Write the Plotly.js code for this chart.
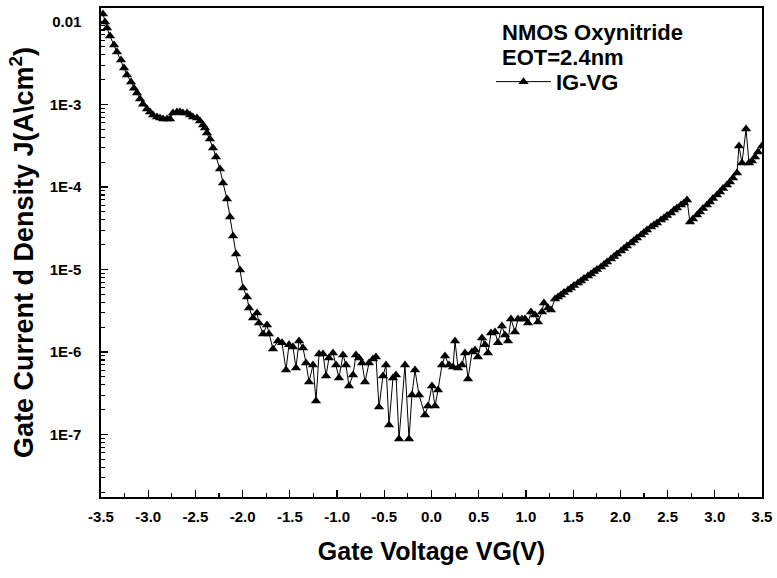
<!DOCTYPE html>
<html>
<head>
<meta charset="utf-8">
<script src="https://cdn.plot.ly/plotly-3.0.1.min.js"></script>
<style>html,body{margin:0;padding:0;background:#fff;}#chart{width:777px;height:578px;}</style>
</head>
<body>
<div id="chart"></div>
<script>
// Gate voltage (V)
const gateVoltage = [
 -3.479,-3.458,-3.436,-3.405,-3.362,-3.331,-3.288,-3.256,-3.225,-3.182,-3.151,-3.119,-3.087,-3.055,-3.013,-2.981,-2.949,-2.907,-2.875,-2.843,-2.801,-2.769,-2.738,-2.695,-2.663,-2.632,-2.589,-2.557,-2.526,-2.483,-2.452,-2.420,
 -2.399,-2.378,-2.346,-2.314,-2.282,-2.240,-2.208,-2.166,-2.134,-2.102,-2.070,-2.028,-1.996,-1.954,-1.933,-1.890,-1.848,-1.827,-1.784,-1.742,-1.721,-1.679,-1.626,
 -1.583,-1.541,-1.509,-1.467,-1.435,-1.403,-1.361,-1.329,-1.297,-1.255,-1.223,-1.191,-1.149,-1.117,-1.086,-1.043,-1.011,-0.980,-0.937,-0.906,-0.874,-0.831,-0.800,-0.768,-0.736,-0.704,-0.662,-0.620,-0.588,-0.556,-0.514,-0.482,-0.450,-0.408,-0.376,-0.344,-0.281,-0.238,-0.207,-0.175,-0.132,-0.069,-0.037,
 0.005,0.037,0.069,0.111,0.143,0.185,0.228,0.249,0.281,0.323,0.355,0.387,0.429,0.461,0.492,0.535,0.567,0.598,0.630,0.672,0.704,0.746,0.778,0.810,0.842,0.884,0.916,0.958,0.990,1.022,1.054,1.096,1.128,1.170,1.191,1.234,1.266,1.308,1.340,
 1.371,1.403,1.446,1.477,1.509,1.551,1.583,1.615,1.657,1.689,1.721,1.753,1.795,1.827,1.859,1.901,1.933,1.964,2.007,2.038,2.070,2.113,2.144,2.176,2.219,2.250,2.282,2.325,2.356,2.388,2.430,2.462,2.494,2.536,2.568,2.600,2.642,2.674,2.706,
 2.737,2.769,2.812,2.843,2.875,2.917,2.949,2.981,3.023,3.055,3.087,3.129,3.161,3.193,3.235,3.256,3.288,3.331,3.362,3.394,3.426,3.458,3.500
];
// Gate current density J (A/cm^2)
const currentDensity = [
 1.25e-2,1.00e-2,8.45e-3,6.76e-3,5.26e-3,4.33e-3,3.46e-3,2.77e-3,2.28e-3,1.87e-3,1.58e-3,1.38e-3,1.17e-3,1.01e-3,8.81e-4,8.11e-4,7.46e-4,7.05e-4,6.86e-4,6.67e-4,6.67e-4,6.67e-4,7.88e-4,8.11e-4,8.11e-4,7.88e-4,7.88e-4,7.46e-4,7.05e-4,6.86e-4,6.31e-4,5.65e-4,
 5.19e-4,4.52e-4,3.82e-4,2.97e-4,2.31e-4,1.65e-4,1.12e-4,7.16e-5,4.33e-5,2.55e-5,1.54e-5,9.86e-6,5.97e-6,4.65e-6,3.41e-6,2.58e-6,2.97e-6,2.25e-6,1.65e-6,2.12e-6,1.65e-6,1.09e-6,1.36e-6,
 1.29e-6,6.05e-7,1.22e-6,1.15e-6,6.40e-7,1.36e-6,1.12e-6,7.36e-7,4.33e-7,6.95e-7,2.55e-7,9.46e-7,9.46e-7,5.12e-7,8.46e-7,9.73e-7,6.95e-7,4.84e-7,9.20e-7,6.95e-7,3.87e-7,5.26e-7,9.20e-7,8.46e-7,7.36e-7,4.33e-7,7.36e-7,8.22e-7,8.69e-7,2.15e-7,5.12e-7,6.95e-7,1.30e-7,4.84e-7,5.26e-7,8.82e-8,6.95e-7,8.82e-8,3.01e-7,6.05e-7,3.01e-7,1.72e-7,2.21e-7,
 3.87e-7,2.21e-7,3.46e-7,6.95e-7,8.95e-7,6.95e-7,6.58e-7,1.36e-6,6.40e-7,6.95e-7,9.73e-7,4.71e-7,1.00e-6,1.06e-6,8.69e-7,1.48e-6,1.22e-6,9.73e-7,1.70e-6,1.75e-6,1.29e-6,2.07e-6,1.61e-6,1.36e-6,2.51e-6,1.75e-6,2.51e-6,2.51e-6,2.51e-6,2.25e-6,3.05e-6,2.81e-6,2.31e-6,3.05e-6,3.93e-6,3.41e-6,3.23e-6,4.39e-6,4.65e-6,
 4.91e-6,5.26e-6,5.65e-6,5.97e-6,6.40e-6,6.86e-6,7.26e-6,7.78e-6,8.34e-6,8.81e-6,9.46e-6,1.00e-5,1.07e-5,1.15e-5,1.23e-5,1.34e-5,1.44e-5,1.54e-5,1.67e-5,1.80e-5,1.93e-5,2.09e-5,2.25e-5,2.41e-5,2.62e-5,2.81e-5,3.01e-5,3.27e-5,3.46e-5,3.66e-5,3.98e-5,4.21e-5,4.52e-5,4.84e-5,5.26e-5,5.56e-5,6.05e-5,6.40e-5,6.95e-5,
 3.77e-5,4.09e-5,4.58e-5,4.98e-5,5.48e-5,6.05e-5,6.58e-5,7.26e-5,8.00e-5,8.69e-5,9.59e-5,1.06e-4,1.15e-4,1.29e-4,1.48e-4,3.14e-4,1.95e-4,5.05e-4,1.95e-4,2.07e-4,2.31e-4,2.65e-4,3.14e-4
];
const xTickVals = [-3.5,-3.0,-2.5,-2.0,-1.5,-1.0,-0.5,0.0,0.5,1.0,1.5,2.0,2.5,3.0,3.5];
const xTickText = ['-3.5','-3.0','-2.5','-2.0','-1.5','-1.0','-0.5','0.0','0.5','1.0','1.5','2.0','2.5','3.0','3.5'];
const yTickVals = [1e-2,1e-3,1e-4,1e-5,1e-6,1e-7];
const yTickText = ['0.01','1E-3','1E-4','1E-5','1E-6','1E-7'];
const seriesName = 'IG-VG';

const yMinor = [];
for (let e = -8; e <= -2; e++) for (let m = 2; m <= 9; m++) yMinor.push(m * Math.pow(10, e));
const xMinor = [];
for (let i = 0; i < xTickVals.length - 1; i++) xMinor.push((xTickVals[i] + xTickVals[i+1]) / 2);

const FONT = 'Liberation Sans, Arial, sans-serif';

const trace = {
  x: gateVoltage, y: currentDensity, name: seriesName,
  type: 'scatter', mode: 'lines+markers',
  line: {color: '#000', width: 1},
  marker: {symbol: 'triangle-up', size: 9, color: '#000'},
  cliponaxis: true
};

const layout = {
  width: 777, height: 578,
  margin: {l: 101, r: 15, t: 8, b: 81, pad: 0},
  paper_bgcolor: '#fff', plot_bgcolor: '#fff',
  font: {family: FONT, color: '#000'},
  showlegend: true,
  legend: {x: 0.590, y: 0.849, xanchor: 'left', yanchor: 'middle', bgcolor: 'rgba(0,0,0,0)',
           font: {size: 22, family: FONT, weight: 'bold'}, itemwidth: 55, tracegroupgap: 0},
  xaxis: {
    range: [-3.5, 3.5], tickmode: 'array', tickvals: xTickVals, ticktext: xTickText,
    ticks: 'inside', ticklen: 7, tickwidth: 1.2, tickcolor: '#000',
    minor: {tickmode: 'array', tickvals: xMinor, ticks: 'inside', ticklen: 4, tickwidth: 1.2, tickcolor: '#000'},
    showline: true, linecolor: '#000', linewidth: 1.6, mirror: true,
    showgrid: false, zeroline: false, ticklabelstandoff: 5,
    tickfont: {size: 15, family: FONT, weight: 'bold'},
    title: {text: 'Gate Voltage VG(V)', font: {size: 25, family: FONT, weight: 'bold'}, standoff: 19}
  },
  yaxis: {
    type: 'log', range: [-7.758, -1.83], tickmode: 'array', tickvals: yTickVals, ticktext: yTickText,
    ticks: 'inside', ticklen: 7, tickwidth: 1.2, tickcolor: '#000',
    minor: {tickmode: 'array', tickvals: yMinor, ticks: 'inside', ticklen: 4, tickwidth: 1.2, tickcolor: '#000'},
    showline: true, linecolor: '#000', linewidth: 1.6, mirror: true,
    showgrid: false, zeroline: false, ticklabelstandoff: 15,
    tickfont: {size: 15, family: FONT, weight: 'bold'},
    title: {text: 'Gate Current d Density J(A\\cm<sup>2</sup>)', font: {size: 27, family: FONT, weight: 'bold'}, standoff: 8}
  },
  annotations: [
    {xref: 'paper', yref: 'paper', x: 0.603, y: 0.949, xanchor: 'left', yanchor: 'middle', showarrow: false,
     text: 'NMOS Oxynitride', font: {size: 22, family: FONT, weight: 'bold'}},
    {xref: 'paper', yref: 'paper', x: 0.603, y: 0.898, xanchor: 'left', yanchor: 'middle', showarrow: false,
     text: 'EOT=2.4nm', font: {size: 22, family: FONT, weight: 'bold'}}
  ]
};

Plotly.newPlot('chart', [trace], layout, {displayModeBar: false, staticPlot: true});
</script>
</body>
</html>
